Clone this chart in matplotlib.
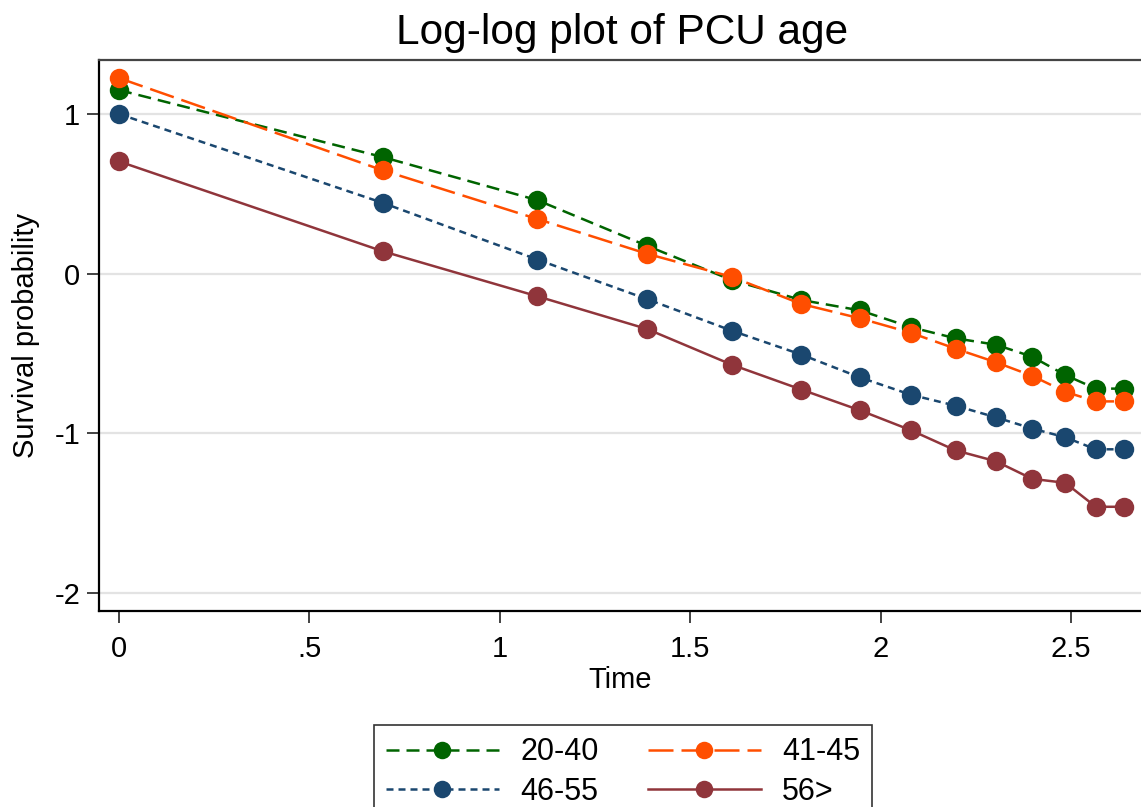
import matplotlib
matplotlib.use("Agg")
import matplotlib.pyplot as plt

plt.rcParams['font.family'] = ['Liberation Sans', 'DejaVu Sans']
plt.rcParams['axes.unicode_minus'] = False

# Data
time = [0, 0.693, 1.099, 1.386, 1.609, 1.792, 1.946, 2.079, 2.197, 2.303, 2.398, 2.485, 2.565, 2.639]
g20_40 = [1.15, 0.73, 0.46, 0.175, -0.04, -0.165, -0.23, -0.335, -0.405, -0.445, -0.52, -0.635, -0.72, -0.72]
g41_45 = [1.225, 0.647, 0.342, 0.125, -0.02, -0.19, -0.28, -0.37, -0.47, -0.555, -0.64, -0.74, -0.80, -0.80]
g46_55 = [1.0, 0.443, 0.088, -0.159, -0.357, -0.507, -0.65, -0.758, -0.827, -0.90, -0.97, -1.025, -1.10, -1.10]
g56 = [0.703, 0.14, -0.142, -0.346, -0.57, -0.726, -0.856, -0.98, -1.107, -1.175, -1.285, -1.31, -1.46, -1.46]

labels = ['20-40', '41-45', '46-55', '56>']
xticks = [0, 0.5, 1, 1.5, 2, 2.5]
xticklabels = ['0', '.5', '1', '1.5', '2', '2.5']
yticks = [-2, -1, 0, 1]
yticklabels = ['-2', '-1', '0', '1']

W, H = 1141, 807
fig = plt.figure(figsize=(W / 100, H / 100), dpi=100)
left, right, top, bottom = 99, 1141, 60, 611
ax = fig.add_axes([left / W, 1 - bottom / H, (right - left) / W, (bottom - top) / H])

lw = 1.8
ms = 14
h1, = ax.plot(time, g20_40, color='#006400', lw=lw, dashes=(5.2, 2.8), marker='o', ms=ms, mew=0, label=labels[0], zorder=3)
h2, = ax.plot(time, g41_45, color='#FF4E00', lw=lw, dashes=(10, 3.2), marker='o', ms=ms, mew=0, label=labels[1], zorder=4)
h3, = ax.plot(time, g46_55, color='#1A476F', lw=lw, dashes=(2.8, 2.0), marker='o', ms=ms, mew=0, label=labels[2], zorder=3)
h4, = ax.plot(time, g56, color='#90353B', lw=lw, linestyle='-', marker='o', ms=ms, mew=0, label=labels[3], zorder=3)

# axis ranges (pixel-calibrated)
ax.set_xlim((left - 119) / 380.8, (right - 119) / 380.8)
ax.set_ylim(-2 - (bottom - 593) / 159.67, 1 + (114 - top) / 159.67)

ax.set_xticks(xticks)
ax.set_xticklabels(xticklabels)
ax.set_yticks(yticks)
ax.set_yticklabels(yticklabels)
ax.tick_params(axis='both', direction='out', length=8.5, width=1.2, labelsize=21, color='#222222')
ax.tick_params(axis='x', pad=9)
ax.tick_params(axis='y', pad=5)

ax.yaxis.grid(True, color='#e3e3e3', lw=1.6, zorder=0)
ax.set_axisbelow(True)

for s in ['left', 'bottom']:
    ax.spines[s].set_color('black')
    ax.spines[s].set_linewidth(1.6)
ax.spines['top'].set_color('#444444')
ax.spines['top'].set_linewidth(1.6)
ax.spines['right'].set_visible(False)

ax.set_xlabel('Time', fontsize=21, labelpad=2)
ax.set_ylabel('Survival probability', fontsize=21, labelpad=10)
fig.text(622 / W, 1 - 33 / H, 'Log-log plot of PCU age', fontsize=30.5, ha='center', va='center')

# row-major legend order: 20-40, 41-45 / 46-55, 56>
leg = fig.legend([h1, h3, h2, h4], [labels[0], labels[2], labels[1], labels[3]],
                 loc='upper center', bbox_to_anchor=(623 / W, 1 - 710 / H), ncol=2,
                 fontsize=22, frameon=True, fancybox=False, edgecolor='black',
                 handlelength=3.7, handletextpad=0.7, columnspacing=1.6,
                 borderpad=0.4, labelspacing=0.3, numpoints=1, markerscale=0.9)
leg.get_frame().set_linewidth(1.2)

fig.savefig('out.png', dpi=100)
